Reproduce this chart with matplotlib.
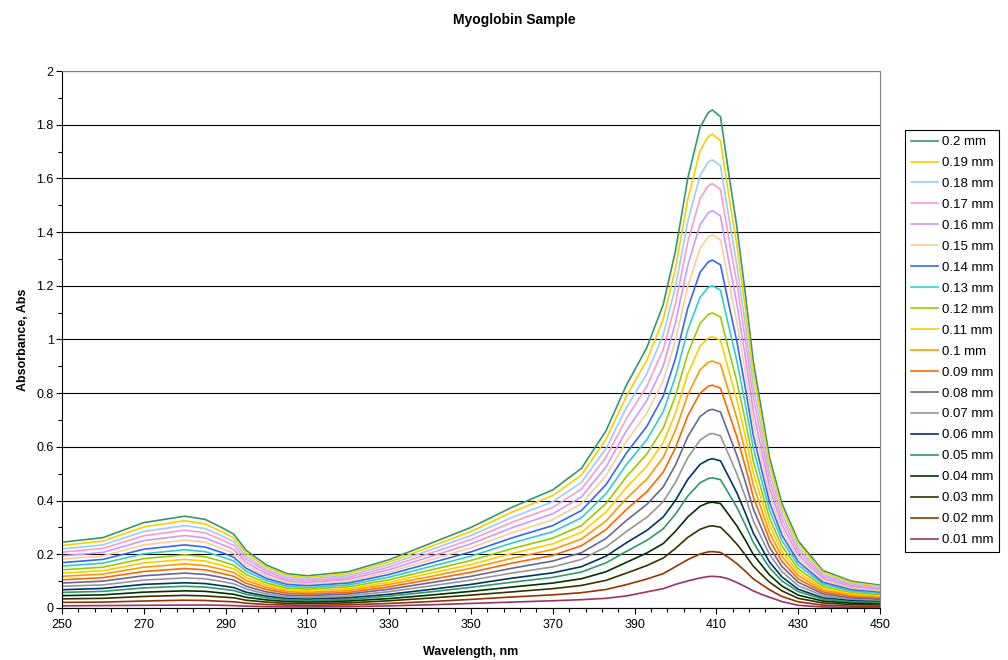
import matplotlib
matplotlib.use("Agg")
import matplotlib.pyplot as plt
from matplotlib.ticker import MultipleLocator, FuncFormatter

plt.rcParams['font.family'] = ['Liberation Sans', 'DejaVu Sans']

# wavelength grid (nm)
wl = [250, 260, 270, 280, 285, 289, 292, 295, 300, 305, 310, 320, 330, 340, 350, 360, 370, 377, 383, 388,
      393, 397, 400, 403, 406, 408, 409, 411, 413, 415, 417, 419, 421, 423, 426, 430, 436, 443, 450]

# absorbance for each path length
a01 = [0.008, 0.009, 0.010, 0.011, 0.011, 0.010, 0.009, 0.007, 0.005, 0.004, 0.004, 0.005, 0.008, 0.012, 0.017, 0.022, 0.027, 0.031, 0.036, 0.045,
       0.060, 0.072, 0.088, 0.101, 0.112, 0.117, 0.118, 0.116, 0.108, 0.095, 0.080, 0.064, 0.051, 0.040, 0.024, 0.010, 0.004, 0.002, 0.002]
a02 = [0.021, 0.022, 0.026, 0.029, 0.028, 0.025, 0.023, 0.018, 0.013, 0.011, 0.010, 0.012, 0.017, 0.024, 0.032, 0.041, 0.049, 0.057, 0.069, 0.087,
       0.108, 0.128, 0.154, 0.180, 0.201, 0.209, 0.210, 0.207, 0.188, 0.165, 0.138, 0.109, 0.088, 0.068, 0.043, 0.023, 0.011, 0.007, 0.006]
a03 = [0.034, 0.036, 0.043, 0.047, 0.045, 0.041, 0.038, 0.029, 0.022, 0.017, 0.017, 0.019, 0.027, 0.037, 0.048, 0.060, 0.072, 0.084, 0.103, 0.130,
       0.158, 0.186, 0.222, 0.263, 0.293, 0.304, 0.306, 0.301, 0.271, 0.238, 0.199, 0.156, 0.125, 0.096, 0.064, 0.036, 0.019, 0.013, 0.011]
a04 = [0.046, 0.049, 0.059, 0.064, 0.062, 0.056, 0.051, 0.040, 0.030, 0.024, 0.022, 0.026, 0.035, 0.048, 0.062, 0.078, 0.093, 0.109, 0.135, 0.170,
       0.205, 0.240, 0.286, 0.339, 0.379, 0.392, 0.394, 0.389, 0.348, 0.306, 0.255, 0.200, 0.161, 0.123, 0.082, 0.048, 0.026, 0.018, 0.015]
a05 = [0.058, 0.062, 0.075, 0.081, 0.078, 0.071, 0.065, 0.051, 0.038, 0.030, 0.028, 0.032, 0.044, 0.060, 0.077, 0.096, 0.114, 0.134, 0.168, 0.211,
       0.252, 0.295, 0.350, 0.417, 0.466, 0.482, 0.485, 0.478, 0.427, 0.375, 0.312, 0.245, 0.196, 0.150, 0.101, 0.061, 0.033, 0.023, 0.020]
a06 = [0.068, 0.073, 0.088, 0.094, 0.091, 0.083, 0.076, 0.059, 0.044, 0.035, 0.033, 0.038, 0.051, 0.069, 0.088, 0.111, 0.131, 0.154, 0.193, 0.243,
       0.289, 0.339, 0.401, 0.479, 0.535, 0.552, 0.556, 0.548, 0.489, 0.429, 0.357, 0.280, 0.225, 0.171, 0.116, 0.070, 0.038, 0.027, 0.023]
a07 = [0.081, 0.086, 0.104, 0.112, 0.109, 0.099, 0.090, 0.071, 0.052, 0.042, 0.040, 0.045, 0.061, 0.082, 0.104, 0.130, 0.153, 0.181, 0.227, 0.285,
       0.338, 0.396, 0.468, 0.560, 0.625, 0.646, 0.650, 0.641, 0.571, 0.500, 0.417, 0.326, 0.262, 0.199, 0.136, 0.083, 0.046, 0.032, 0.027]
a08 = [0.093, 0.100, 0.120, 0.130, 0.125, 0.114, 0.104, 0.081, 0.060, 0.048, 0.046, 0.052, 0.070, 0.094, 0.118, 0.148, 0.175, 0.206, 0.259, 0.326,
       0.386, 0.451, 0.533, 0.638, 0.713, 0.736, 0.740, 0.730, 0.649, 0.569, 0.474, 0.370, 0.298, 0.226, 0.155, 0.096, 0.053, 0.037, 0.032]
a09 = [0.105, 0.113, 0.136, 0.147, 0.142, 0.129, 0.118, 0.092, 0.069, 0.055, 0.052, 0.058, 0.079, 0.106, 0.133, 0.167, 0.196, 0.232, 0.292, 0.367,
       0.433, 0.506, 0.597, 0.716, 0.800, 0.826, 0.830, 0.819, 0.728, 0.638, 0.531, 0.415, 0.334, 0.253, 0.174, 0.108, 0.060, 0.042, 0.036]
a10 = [0.118, 0.126, 0.152, 0.164, 0.158, 0.144, 0.132, 0.103, 0.077, 0.061, 0.058, 0.065, 0.088, 0.117, 0.148, 0.185, 0.218, 0.257, 0.324, 0.408,
       0.480, 0.561, 0.662, 0.794, 0.887, 0.915, 0.920, 0.908, 0.807, 0.707, 0.588, 0.460, 0.369, 0.280, 0.193, 0.121, 0.067, 0.047, 0.040]
a11 = [0.130, 0.139, 0.168, 0.181, 0.175, 0.159, 0.146, 0.114, 0.085, 0.068, 0.064, 0.072, 0.096, 0.129, 0.162, 0.203, 0.239, 0.282, 0.357, 0.449,
       0.528, 0.616, 0.726, 0.872, 0.975, 1.005, 1.011, 0.997, 0.885, 0.776, 0.645, 0.504, 0.405, 0.307, 0.212, 0.133, 0.074, 0.052, 0.045]
a12 = [0.142, 0.152, 0.184, 0.198, 0.191, 0.174, 0.159, 0.125, 0.093, 0.074, 0.070, 0.079, 0.105, 0.141, 0.177, 0.221, 0.260, 0.307, 0.389, 0.489,
       0.574, 0.670, 0.790, 0.948, 1.060, 1.093, 1.099, 1.084, 0.962, 0.844, 0.702, 0.548, 0.440, 0.334, 0.231, 0.146, 0.081, 0.057, 0.049]
a13 = [0.156, 0.167, 0.202, 0.217, 0.210, 0.191, 0.175, 0.137, 0.102, 0.081, 0.076, 0.086, 0.115, 0.154, 0.193, 0.242, 0.284, 0.336, 0.425, 0.534,
       0.627, 0.731, 0.862, 1.035, 1.157, 1.194, 1.200, 1.184, 1.050, 0.921, 0.765, 0.597, 0.480, 0.364, 0.252, 0.160, 0.089, 0.063, 0.054]
a14 = [0.169, 0.181, 0.219, 0.235, 0.227, 0.207, 0.189, 0.148, 0.110, 0.088, 0.083, 0.093, 0.125, 0.167, 0.209, 0.261, 0.307, 0.363, 0.459, 0.577,
       0.677, 0.789, 0.930, 1.117, 1.250, 1.289, 1.296, 1.278, 1.133, 0.993, 0.826, 0.644, 0.518, 0.393, 0.272, 0.173, 0.096, 0.068, 0.058]
a15 = [0.182, 0.194, 0.235, 0.253, 0.245, 0.222, 0.204, 0.159, 0.118, 0.095, 0.089, 0.100, 0.134, 0.179, 0.224, 0.280, 0.329, 0.389, 0.493, 0.620,
       0.726, 0.846, 0.997, 1.198, 1.340, 1.382, 1.390, 1.371, 1.215, 1.065, 0.885, 0.691, 0.555, 0.421, 0.292, 0.186, 0.104, 0.074, 0.063]
a16 = [0.194, 0.207, 0.251, 0.270, 0.261, 0.237, 0.218, 0.170, 0.127, 0.101, 0.095, 0.107, 0.143, 0.191, 0.239, 0.299, 0.351, 0.414, 0.525, 0.660,
       0.773, 0.901, 1.062, 1.276, 1.428, 1.472, 1.480, 1.460, 1.293, 1.134, 0.942, 0.735, 0.591, 0.448, 0.311, 0.198, 0.111, 0.079, 0.067]
a17 = [0.208, 0.222, 0.269, 0.290, 0.280, 0.254, 0.233, 0.182, 0.136, 0.108, 0.102, 0.114, 0.153, 0.204, 0.255, 0.319, 0.375, 0.443, 0.561, 0.706,
       0.826, 0.963, 1.134, 1.363, 1.525, 1.572, 1.581, 1.559, 1.381, 1.211, 1.006, 0.785, 0.631, 0.478, 0.332, 0.212, 0.119, 0.085, 0.072]
a18 = [0.220, 0.235, 0.285, 0.307, 0.296, 0.269, 0.247, 0.193, 0.143, 0.115, 0.108, 0.121, 0.162, 0.216, 0.270, 0.337, 0.396, 0.468, 0.593, 0.746,
       0.873, 1.017, 1.197, 1.440, 1.611, 1.660, 1.669, 1.647, 1.458, 1.278, 1.062, 0.828, 0.666, 0.504, 0.351, 0.224, 0.125, 0.090, 0.076]
a19 = [0.233, 0.249, 0.302, 0.325, 0.313, 0.285, 0.261, 0.204, 0.152, 0.122, 0.114, 0.128, 0.171, 0.228, 0.285, 0.357, 0.419, 0.495, 0.628, 0.789,
       0.923, 1.075, 1.265, 1.522, 1.703, 1.755, 1.765, 1.741, 1.541, 1.351, 1.123, 0.875, 0.704, 0.533, 0.371, 0.238, 0.133, 0.095, 0.081]
a20 = [0.245, 0.262, 0.318, 0.342, 0.330, 0.300, 0.275, 0.215, 0.160, 0.128, 0.120, 0.135, 0.180, 0.240, 0.300, 0.375, 0.440, 0.520, 0.660, 0.830,
       0.970, 1.130, 1.330, 1.600, 1.790, 1.845, 1.855, 1.830, 1.620, 1.420, 1.180, 0.920, 0.740, 0.560, 0.390, 0.250, 0.140, 0.100, 0.085]

labels = ['0.2 mm', '0.19 mm', '0.18 mm', '0.17 mm', '0.16 mm', '0.15 mm', '0.14 mm', '0.13 mm', '0.12 mm', '0.11 mm',
          '0.1 mm', '0.09 mm', '0.08 mm', '0.07 mm', '0.06 mm', '0.05 mm', '0.04 mm', '0.03 mm', '0.02 mm', '0.01 mm']
series = [a20, a19, a18, a17, a16, a15, a14, a13, a12, a11, a10, a09, a08, a07, a06, a05, a04, a03, a02, a01]
colors = ['#339966', '#FFCC00', '#99CCFF', '#FF99CC', '#CC99FF', '#FFCC99', '#3366FF', '#33CCCC', '#99CC00', '#FFCC00',
          '#FF9900', '#FF6600', '#666699', '#969696', '#003366', '#339966', '#003300', '#333300', '#993300', '#993366']

fig = plt.figure(figsize=(10.08, 6.6), dpi=100)
ax = fig.add_axes([62/1008, 1-608/660, 818/1008, 537/660])

for vals, lab, col in zip(series, labels, colors):
    ax.plot(wl, vals, color=col, lw=1.2, label=lab)

ax.set_xlim(250, 450)
ax.set_ylim(0, 2)
ax.xaxis.set_major_locator(MultipleLocator(20, offset=10))
ax.xaxis.set_minor_locator(MultipleLocator(4, offset=2))
ax.yaxis.set_major_locator(MultipleLocator(0.2))
ax.yaxis.set_minor_locator(MultipleLocator(0.1))
ax.yaxis.set_major_formatter(FuncFormatter(lambda v, p: f"{v:g}"))
ax.tick_params(which='major', direction='out', length=4, width=0.8, labelsize=9, pad=2)
ax.tick_params(which='minor', direction='out', length=3, width=0.8)
ax.tick_params(axis='x', which='major', pad=4)
ax.grid(axis='y', which='major', color='black', lw=0.8)
ax.set_axisbelow(True)
for s in ['top', 'right']:
    ax.spines[s].set_color('#808080')

ax.set_xlabel('Wavelength, nm', fontsize=9, fontweight='bold', labelpad=11)
ax.set_ylabel('Absorbance, Abs', fontsize=9, fontweight='bold', labelpad=5)
fig.text(514/1008, 1-20/660, 'Myoglobin Sample', ha='center', va='center', fontsize=10, fontweight='bold')

leg = ax.legend(loc='upper left', bbox_to_anchor=(905/1008, 1-130/660), bbox_transform=fig.transFigure,
                fontsize=9.5, frameon=True, fancybox=False, framealpha=1, edgecolor='black',
                handlelength=2.05, labelspacing=0.66, borderaxespad=0, borderpad=0.45, handletextpad=0.3)
leg.get_frame().set_linewidth(0.8)

plt.savefig('out.png', dpi=100)
